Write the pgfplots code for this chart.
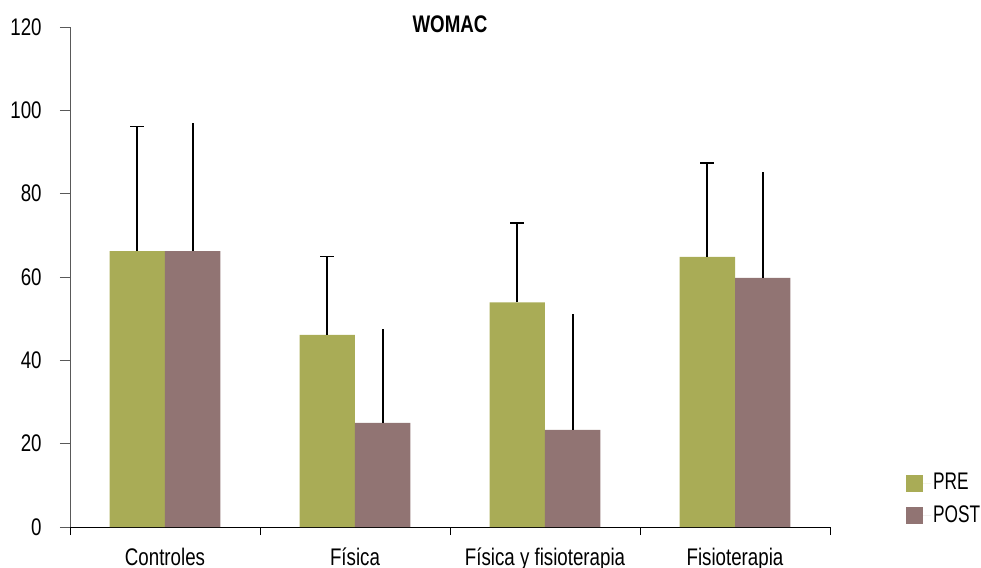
\documentclass[border=0pt]{standalone}
\usepackage{fontspec}
\setmainfont{Liberation Sans}[FakeStretch=0.78]
\newfontfamily\legfont{Liberation Sans}[FakeStretch=0.72]
\usepackage{pgfplots}
\pgfplotsset{compat=1.18}
\definecolor{preC}{HTML}{A9AC56}
\definecolor{postC}{HTML}{917473}
\definecolor{preL}{HTML}{8A8D3A}
\definecolor{postL}{HTML}{977878}
\pgfplotstableread{
x y err
-0.146 66.2 29.9
0.854 46.1 18.8
1.854 53.9 19.0
2.854 64.8 22.5
}\pre
\pgfplotstableread{
x y err
0.146 66.2 30.7
1.146 25.0 22.5
2.146 23.3 27.8
3.146 59.8 25.3
}\post
\begin{document}
\fontsize{12}{14}\selectfont
\begin{tikzpicture}[font=\fontsize{12}{14}\selectfont]
\begin{axis}[
  scale only axis, width=380pt, height=250pt,
  xmin=-0.5, xmax=3.5, ymin=0, ymax=120,
  axis x line*=bottom, axis y line*=left,
  x axis line style={-, black},
  y axis line style={-, black!65},
  ytick={0,20,...,120},
  ytick style={black!65},
  xtick={0,1,2,3},
  xticklabels={Controles,Física,Física y fisioterapia,Fisioterapia},
  major x tick style={draw=none},
  minor xtick={-0.5,0.5,1.5,2.5,3.5},
  minor x tick style={black},
  tick align=outside,
  major tick length=5pt, minor tick length=4pt,
  /pgf/number format/assume math mode=true,
  yticklabel style={anchor=east, inner sep=0pt, xshift=-9pt},
  xticklabel style={anchor=base, inner sep=0pt, yshift=-14pt},
  title={\bfseries WOMAC},
  title style={at={(0.5,1)}, anchor=center, yshift=-4.5pt, inner sep=0pt},
  bar width=0.292,
  legend image code/.code={\fill[#1] (0pt,-4.2pt) rectangle (8.4pt,4.2pt); \path (0pt,0pt) -- (12.4pt,0pt);},
  legend style={draw=none, fill=none, at={(1.1,0.112)}, anchor=north west,
    inner sep=0pt, row sep=4pt, font=\legfont\fontsize{12}{14}\selectfont,
    nodes={inner sep=1pt, anchor=west}},
  legend cell align=left,
]
\addplot[ybar, bar shift=0, fill=preC, draw=none,
  error bars/.cd, y dir=plus, y explicit, error mark=-,
  error bar style={line width=0.8pt, draw=black},
  error mark options={rotate=90, line width=0.8pt, draw=black, mark size=3.5pt}]
  table[x=x, y=y, y error=err]{\pre};
\addplot[ybar, bar shift=0, fill=postC, draw=none,
  error bars/.cd, y dir=plus, y explicit, error mark=none,
  error bar style={line width=0.8pt, draw=black}]
  table[x=x, y=y, y error=err]{\post};
\legend{}
\addlegendimage{fill=preL, draw=none}
\addlegendentry{PRE}
\addlegendimage{fill=postL, draw=none}
\addlegendentry{POST}
\end{axis}
\pgfresetboundingbox
\useasboundingbox (-35pt,-20.5pt) rectangle (455.5pt,263.5pt);
\end{tikzpicture}
\end{document}
